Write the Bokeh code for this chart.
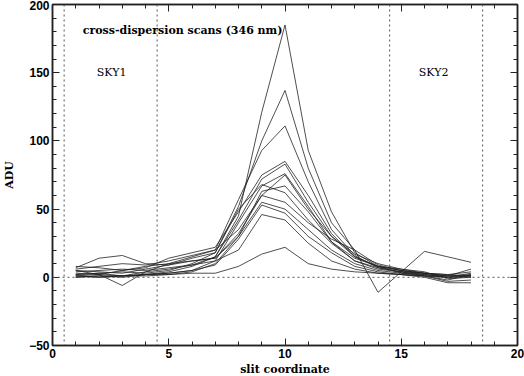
from bokeh.plotting import figure
from bokeh.models import LinearAxis, Span, Range1d, CustomJSTickFormatter, Label, FixedTicker
from bokeh.embed import file_html
from bokeh.resources import INLINE

x = list(range(1, 19))
s1 = [2, 3, 1, 4, 6, 9, 15, 45, 121, 185, 93, 48, 18, 8, 5, 3, 1, 2]
s2 = [5, 4, 3, 6, 9, 14, 18, 52, 100, 137, 80, 40, 20, 9, 5, 2, 0, 3]
s3 = [6, 8, 10, 9, 12, 16, 20, 57, 93, 111, 70, 35, 16, 7, 4, 1, -2, 2]
s4 = [1, 2, 5, 7, 14, 18, 22, 48, 75, 85, 60, 32, 15, 8, 3, 2, 1, 1]
s5 = [3, 2, 1, 2, 4, 8, 15, 42, 72, 83, 55, 30, 17, 10, 6, 4, -1, 0]
s6 = [0, 1, 1, 2, 3, 5, 12, 40, 67, 76, 52, 26, 12, 7, 4, 2, 0, 1]
s7 = [2, 3, 4, 3, 5, 10, 18, 50, 68, 62, 42, 25, 12, 6, 4, 3, 2, 1]
s8 = [1, 0, 1, 1, 2, 4, 10, 30, 55, 50, 35, 20, 10, 5, 3, 1, -3, -2]
s9 = [0, 1, 0, 2, 3, 5, 9, 28, 53, 47, 30, 18, 8, 4, 2, 1, 0, 0]
s10 = [4, 5, 6, 5, 7, 9, 12, 20, 46, 42, 25, 12, 6, 3, 2, 0, -4, -4]
s11 = [1, 0, 1, 2, 2, 3, 3, 8, 17, 22, 10, 6, 4, 3, 2, 1, 0, 1]
s12 = [7, 14, 16, 10, 9, 12, 14, 30, 63, 67, 48, 26, 14, 8, 5, 3, 2, 4]
s13 = [5, 2, -6, 4, 10, 15, 20, 35, 60, 55, 40, 28, 20, -11, 4, 19, 15, 11]
s14 = [8, 7, 5, 8, 10, 12, 14, 32, 60, 75, 50, 30, 15, 8, 6, 3, 1, 6]
series = [s1, s2, s3, s4, s5, s6, s7, s8, s9, s10, s11, s12, s13, s14]

vlines = [0.5, 4.5, 14.5, 18.5]
title_text = "cross-dispersion scans (346 nm)"
sky_labels = [("SKY1", 1.9, 150), ("SKY2", 15.75, 150)]

p = figure(width=524, height=378, output_backend="svg", toolbar_location=None,
           x_range=Range1d(0, 20), y_range=Range1d(-50, 200),
           min_border_left=52, min_border_right=7, min_border_top=4, min_border_bottom=2)
p.grid.visible = False
p.outline_line_color = "#222222"
p.outline_line_width = 1.5
p.background_fill_color = "white"
p.border_fill_color = "white"

fs = "12px"
for ax in [p.xaxis[0], p.yaxis[0]]:
    ax.major_tick_in = 7
    ax.major_tick_out = 0
    ax.minor_tick_in = 4
    ax.minor_tick_out = 0
    ax.axis_line_width = 1.5
    ax.axis_line_color = "#222222"
    ax.major_tick_line_color = "#222222"
    ax.minor_tick_line_color = "#222222"
    ax.major_label_text_font = "Liberation Sans"
    ax.major_label_text_font_style = "bold"
    ax.major_label_text_font_size = fs
    ax.major_label_text_color = "black"
    ax.axis_label_text_font = "DejaVu Serif"
    ax.axis_label_text_font_style = "bold"
    ax.axis_label_text_font_size = "11px"
    ax.axis_label_text_color = "black"

p.xaxis.ticker = FixedTicker(ticks=[0, 5, 10, 15, 20], minor_ticks=list(range(0, 21)))
p.yaxis.ticker = FixedTicker(ticks=[-50, 0, 50, 100, 150, 200], minor_ticks=list(range(-50, 201, 10)))
p.xaxis.axis_label = "slit coordinate"
p.yaxis.axis_label = "ADU"
p.xaxis.axis_label_standoff = 2
p.yaxis.axis_label_standoff = 10
p.xaxis.major_label_standoff = 3
p.yaxis.major_label_standoff = 3

for loc, tick, minor in [("above", [0, 5, 10, 15, 20], list(range(0, 21))),
                         ("right", [-50, 0, 50, 100, 150, 200], list(range(-50, 201, 10)))]:
    ax = LinearAxis(ticker=FixedTicker(ticks=tick, minor_ticks=minor),
                    formatter=CustomJSTickFormatter(code="return ''"))
    ax.major_tick_in = 7
    ax.major_tick_out = 0
    ax.minor_tick_in = 4
    ax.minor_tick_out = 0
    ax.axis_line_width = 1.5
    ax.axis_line_color = "#222222"
    ax.major_tick_line_color = "#222222"
    ax.minor_tick_line_color = "#222222"
    ax.major_label_standoff = 0
    ax.major_label_text_font_size = "1px"
    p.add_layout(ax, loc)

for v in vlines:
    p.add_layout(Span(location=v, dimension="height", line_color="#555555",
                      line_dash="2 3", line_width=1))
p.add_layout(Span(location=0, dimension="width", line_color="#555555",
                  line_dash="2 3", line_width=1))

for s in series:
    p.line(x, s, line_color="#222222", line_width=0.8)

p.add_layout(Label(x=1.3, y=181, text=title_text, text_font="DejaVu Serif",
                   text_font_style="bold", text_font_size="11px", text_baseline="middle",
                   text_color="black"))
for t, xx, yy in sky_labels:
    p.add_layout(Label(x=xx, y=yy, text=t, text_font="DejaVu Serif",
                       text_font_size="11px", text_baseline="middle", text_color="black"))

open("out.html", "w").write(file_html(p, INLINE))
